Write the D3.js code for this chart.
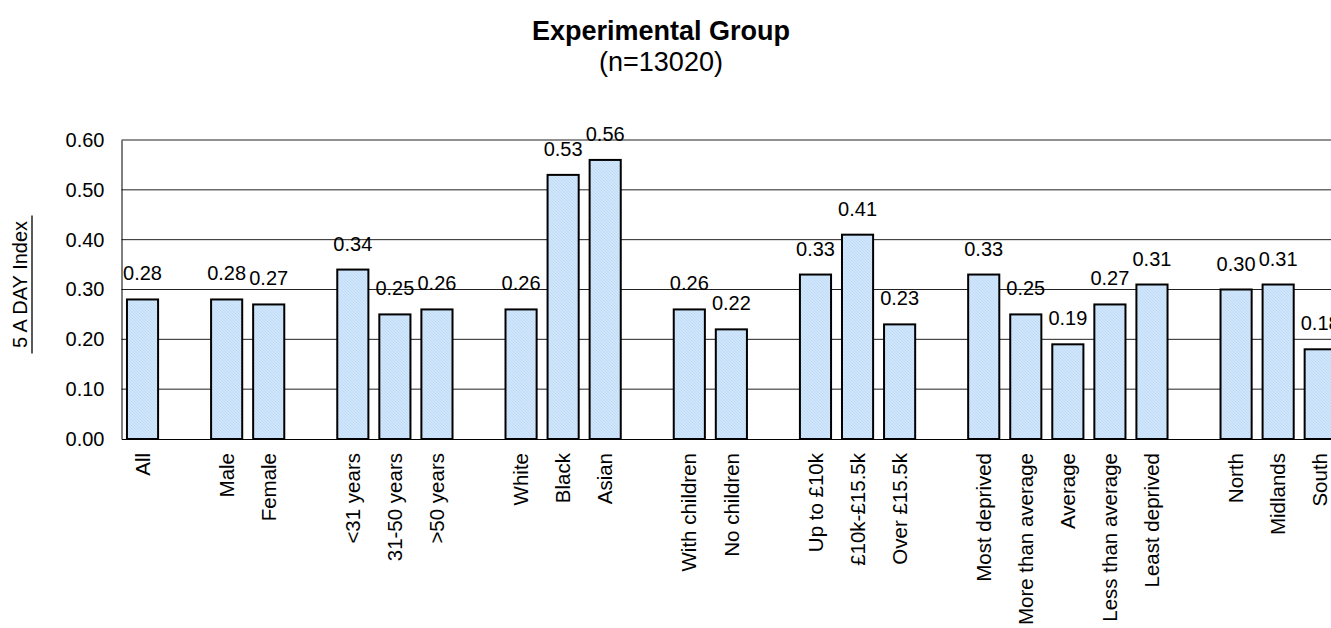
<!DOCTYPE html>
<html>
<head>
<meta charset="utf-8">
<script src="https://cdn.jsdelivr.net/npm/d3@7"></script>
<style>
  html, body { margin: 0; padding: 0; background: #fff; }
  svg { display: block; font-family: "Liberation Sans", Arial, sans-serif; }
</style>
</head>
<body>
<svg id="chart" width="1331" height="628"></svg>
<script>
// ---- data ----
const categories = ["All", "", "Male", "Female", "", "<31 years", "31-50 years", ">50 years", "",
  "White", "Black", "Asian", "", "With children", "No children", "",
  "Up to £10k", "£10k-£15.5k", "Over £15.5k", "",
  "Most deprived", "More than average", "Average", "Less than average", "Least deprived", "",
  "North", "Midlands", "South"];
const values = [0.28, null, 0.28, 0.27, null, 0.34, 0.25, 0.26, null,
  0.26, 0.53, 0.56, null, 0.26, 0.22, null,
  0.33, 0.41, 0.23, null,
  0.33, 0.25, 0.19, 0.27, 0.31, null,
  0.30, 0.31, 0.18];
const yTicks = [0, 0.1, 0.2, 0.3, 0.4, 0.5, 0.6];
const titleText = "Experimental Group";
const subtitleText = "(n=13020)";
const yLabel = "5 A DAY Index";

// ---- layout ----
const svg = d3.select("#chart");
const plotLeft = 121.5, step = 42.06, plotTop = 140, plotBottom = 439;
const plotRight = plotLeft + step * categories.length;

// subtle dithered light-blue fill
const defs = svg.append("defs");
const pat = defs.append("pattern").attr("id", "dither").attr("patternUnits", "userSpaceOnUse")
  .attr("width", 3).attr("height", 3);
pat.append("rect").attr("width", 3).attr("height", 3).attr("fill", "#d0e6fc");
pat.append("rect").attr("x", 0).attr("y", 0).attr("width", 1).attr("height", 1).attr("fill", "#c1dbf5");
pat.append("rect").attr("x", 1).attr("y", 1).attr("width", 1).attr("height", 1).attr("fill", "#c1dbf5");
pat.append("rect").attr("x", 2).attr("y", 2).attr("width", 1).attr("height", 1).attr("fill", "#c1dbf5");

const x = d3.scaleBand()
  .domain(categories.map((d, i) => i))
  .range([plotLeft, plotRight])
  .paddingInner(0.26)
  .paddingOuter(0.13);
const y = d3.scaleLinear().domain([0, 0.6]).range([plotBottom, plotTop]);

// title
svg.append("text").attr("x", 661).attr("y", 40).attr("text-anchor", "middle")
  .attr("font-size", 27).attr("font-weight", "bold").attr("fill", "#000").text(titleText);
svg.append("text").attr("x", 661).attr("y", 71).attr("text-anchor", "middle")
  .attr("font-size", 27).attr("fill", "#000").text(subtitleText);

// gridlines
svg.append("g").selectAll("line").data(yTicks.filter(t => t > 0)).join("line")
  .attr("x1", plotLeft).attr("x2", plotRight)
  .attr("y1", d => y(d)).attr("y2", d => y(d))
  .attr("stroke", "#222").attr("stroke-width", 1);

// y axis
const yAxis = d3.axisLeft(y).tickValues(yTicks).tickFormat(d3.format(".2f"))
  .tickSize(0).tickPadding(17);
const gy = svg.append("g").attr("transform", `translate(${plotLeft},0)`).call(yAxis);
gy.select(".domain").attr("stroke", "#000").attr("stroke-width", 1);
gy.selectAll("text").attr("font-size", 20).attr("fill", "#000")
  .attr("font-family", "Liberation Sans, Arial, sans-serif");

// bars
const bars = categories.map((c, i) => ({ i, c, v: values[i] })).filter(d => d.v !== null);
svg.append("g").selectAll("rect").data(bars).join("rect")
  .attr("x", d => x(d.i)).attr("width", x.bandwidth())
  .attr("y", d => y(d.v)).attr("height", d => y(0) - y(d.v))
  .attr("fill", "url(#dither)").attr("stroke", "#000").attr("stroke-width", 2);

// value labels
svg.append("g").selectAll("text").data(bars).join("text")
  .attr("x", d => x(d.i) + x.bandwidth() / 2).attr("y", d => y(d.v) - 19)
  .attr("text-anchor", "middle").attr("font-size", 20).attr("fill", "#000")
  .text(d => d3.format(".2f")(d.v));

// x axis
const xAxis = d3.axisBottom(x).tickSize(0).tickFormat(i => categories[i]);
const gx = svg.append("g").attr("transform", `translate(0,${plotBottom})`).call(xAxis);
gx.select(".domain").attr("stroke", "#000").attr("stroke-width", 1.2);
gx.selectAll("text")
  .attr("font-size", 20.5).attr("fill", "#000")
  .attr("font-family", "Liberation Sans, Arial, sans-serif")
  .attr("transform", "rotate(-90)")
  .attr("text-anchor", "end")
  .attr("x", -14).attr("y", 0).attr("dy", "0.35em");

// y label
svg.append("text").attr("transform", `translate(27,${(plotTop + plotBottom) / 2 - 5}) rotate(-90)`)
  .attr("text-anchor", "middle").attr("font-size", 20).attr("fill", "#000").text(yLabel);
svg.append("line").attr("x1", 32).attr("x2", 32)
  .attr("y1", (plotTop + plotBottom) / 2 - 5 - 69).attr("y2", (plotTop + plotBottom) / 2 - 5 + 69)
  .attr("stroke", "#000").attr("stroke-width", 1.3);
</script>
</body>
</html>
